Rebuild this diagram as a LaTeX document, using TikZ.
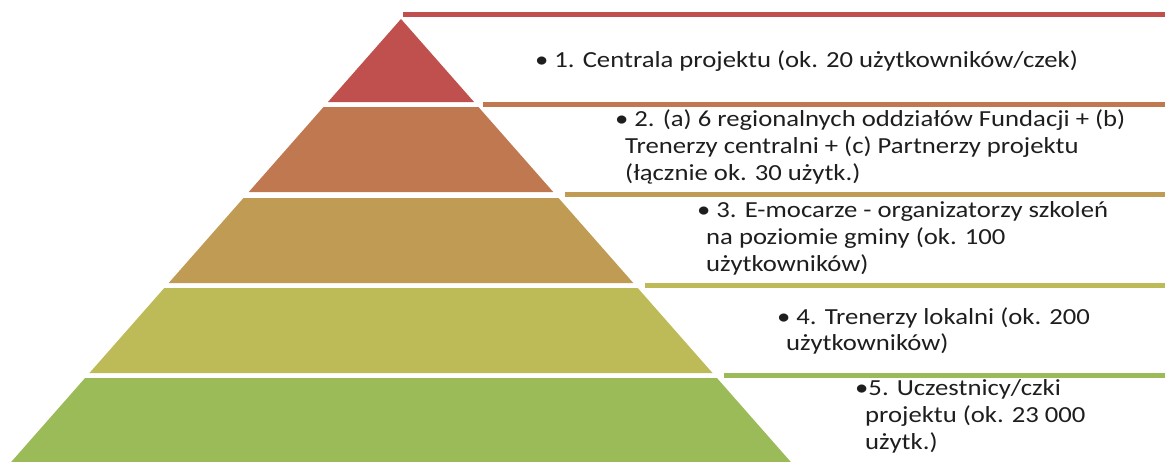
\documentclass[tikz,border=0pt]{standalone}
\usepackage{fontspec}
\setmainfont{Carlito}[FakeStretch=1.16]
\definecolor{cA}{RGB}{192,80,77}
\definecolor{cB}{RGB}{192,120,80}
\definecolor{cC}{RGB}{191,155,84}
\definecolor{cD}{RGB}{189,187,88}
\definecolor{cE}{RGB}{155,187,89}
\definecolor{txt}{RGB}{30,30,30}
\tikzset{
  lbl/.style={anchor=base west, inner sep=0pt, text=txt, font=\fontsize{23}{27}\selectfont},
  band/.style={line width=5pt},
}
\newcommand{\ex}[1]{\fpeval{401+0.88*(#1-19)}}
\newcommand{\wx}[1]{\fpeval{401-0.88*(#1-19)}}
\newcommand{\tier}[3]{\fill[#3] (\wx{#1},#1) -- (\ex{#1},#1) -- (\ex{#2},#2) -- (\wx{#2},#2) -- cycle;}
\begin{document}
\begin{tikzpicture}[x=1pt,y=-1pt]
\useasboundingbox (0,0) rectangle (1165,461);
\fill[white] (0,0) rectangle (1165,461);
% pyramid tiers
\fill[cA] (401,19) -- (\ex{102},102) -- (\wx{102},102) -- cycle;
\tier{107}{192}{cB}
\tier{198}{283}{cC}
\tier{288}{373}{cD}
\tier{378}{480}{cE}
% bands
\coordinate (b1s) at (403,14.5);  \coordinate (b1e) at (1165,14.5);
\coordinate (b2s) at (483,104.5); \coordinate (b2e) at (1165,104.5);
\coordinate (b3s) at (565,194.5); \coordinate (b3e) at (1165,194.5);
\coordinate (b4s) at (645,285.5); \coordinate (b4e) at (1165,285.5);
\coordinate (b5s) at (724,375.5); \coordinate (b5e) at (1165,375.5);
\draw[band,cA] (b1s) -- (b1e);
\draw[band,cB] (b2s) -- (b2e);
\draw[band,cC] (b3s) -- (b3e);
\draw[band,cD] (b4s) -- (b4e);
\draw[band,cE] (b5s) -- (b5e);
% texts
\node[lbl] (t1) at (535,67) {•\hspace{6pt}1. Centrala projektu (ok. 20 użytkowników/czek)};
\node[lbl] (t2a) at (615,126) {•\hspace{6pt}2. (a) 6 regionalnych oddziałów Fundacji + (b)};
\node[lbl] (t2b) at (625,153) {Trenerzy centralni + (c) Partnerzy projektu};
\node[lbl] (t2c) at (625,180) {(łącznie ok. 30 użytk.)};
\node[lbl] (t3a) at (697,217) {•\hspace{6pt}3. E-mocarze - organizatorzy szkoleń};
\node[lbl] (t3b) at (706,244) {na poziomie gminy (ok. 100};
\node[lbl] (t3c) at (706,271) {użytkowników)};
\node[lbl] (t4a) at (777,324) {•\hspace{6pt}4. Trenerzy lokalni (ok. 200};
\node[lbl] (t4b) at (786,350) {użytkowników)};
\node[lbl] (t5a) at (855,395) {•5. Uczestnicy/czki};
\node[lbl] (t5b) at (865,422) {projektu (ok. 23 000};
\node[lbl] (t5c) at (865,449) {użytk.)};
\end{tikzpicture}
\end{document}
